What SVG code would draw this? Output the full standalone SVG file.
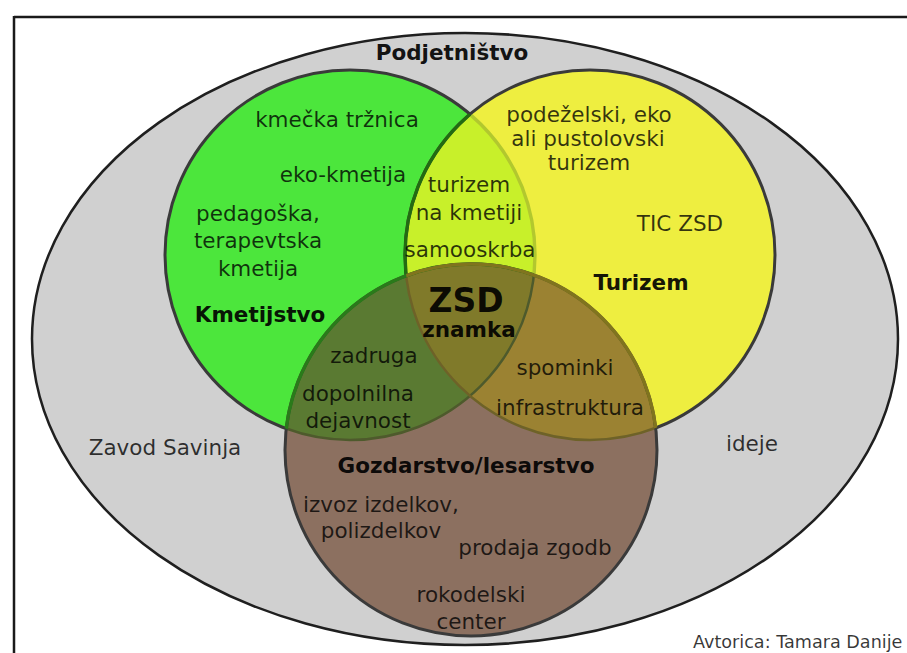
<svg xmlns="http://www.w3.org/2000/svg" width="907" height="653" viewBox="0 0 907 653">
<style>
text{font-family:"DejaVu Sans","Verdana",sans-serif;font-size:21.5px;text-anchor:middle;fill:#000;fill-opacity:0.78}
text.b{font-weight:bold;fill-opacity:0.92}
.edge{fill:none;stroke:#3a3a3a;stroke-width:3}
</style>
<defs>
<circle id="G" cx="350" cy="255" r="185"/>
<circle id="Y" cx="590" cy="255" r="185"/>
<circle id="B" cx="471" cy="450" r="186"/>
<clipPath id="cG"><use href="#G"/></clipPath>
<clipPath id="cY"><use href="#Y"/></clipPath>
<clipPath id="cB"><use href="#B"/></clipPath>
</defs>
<rect width="907" height="653" fill="#fff"/>
<g id="frame" fill="none" stroke="#1a1a1a" stroke-width="2.5">
<line x1="14" y1="17" x2="907" y2="17"/>
<line x1="14" y1="16" x2="14" y2="653"/>
</g>
<g id="podjetnistvo">
<ellipse cx="465" cy="339" rx="433" ry="306" fill="#d0d0d0" stroke="#1f1f1f" stroke-width="2.5"/>
</g>
<g id="regions">
<use href="#G" fill="#4ce63c"/>
<use href="#G" class="edge"/>
<use href="#Y" fill="#eeee40"/>
<use href="#Y" fill="#c8f02a" clip-path="url(#cG)"/>
<use href="#G" fill="none" stroke="#b2c82e" stroke-width="3.4" clip-path="url(#cY)"/>
<use href="#Y" class="edge"/>
<use href="#Y" fill="none" stroke="#236b12" stroke-width="3.4" clip-path="url(#cG)"/>
<use href="#B" fill="#8c7060"/>
<use href="#G" fill="#5a7a32" clip-path="url(#cB)"/>
<use href="#Y" fill="#9b8232" clip-path="url(#cB)"/>
<g clip-path="url(#cB)"><use href="#Y" fill="#807a2a" clip-path="url(#cG)"/></g>
<use href="#G" fill="none" stroke="#4e5a2c" stroke-width="2.5" clip-path="url(#cB)"/>
<use href="#Y" fill="none" stroke="#6e6228" stroke-width="2.5" clip-path="url(#cB)"/>
<use href="#B" class="edge"/>
<use href="#B" fill="none" stroke="#2a7a1a" stroke-width="3.4" clip-path="url(#cG)"/>
<use href="#B" fill="none" stroke="#80741e" stroke-width="3.4" clip-path="url(#cY)"/>
</g>
<g id="labels">
<text class="b" x="452" y="60">Podjetništvo</text>
<text x="337" y="127">kmečka tržnica</text>
<text x="343" y="182">eko-kmetija</text>
<text x="258" y="221">pedagoška,</text>
<text x="258" y="248">terapevtska</text>
<text x="258" y="276">kmetija</text>
<text class="b" x="260" y="322">Kmetijstvo</text>
<text x="469" y="192">turizem</text>
<text x="469" y="220">na kmetiji</text>
<text x="470" y="257">samooskrba</text>
<text x="589" y="122">podeželski, eko</text>
<text x="588" y="146">ali pustolovski</text>
<text x="589" y="170">turizem</text>
<text x="680" y="231">TIC ZSD</text>
<text class="b" x="641" y="290">Turizem</text>
<text class="b" x="466" y="312" style="font-size:33px">ZSD</text>
<text class="b" x="469" y="337">znamka</text>
<text x="374" y="363">zadruga</text>
<text x="358" y="401">dopolnilna</text>
<text x="358" y="428">dejavnost</text>
<text x="565" y="375">spominki</text>
<text x="570" y="415">infrastruktura</text>
<text x="165" y="455">Zavod Savinja</text>
<text x="752" y="451">ideje</text>
<text class="b" x="466" y="473">Gozdarstvo/lesarstvo</text>
<text x="381" y="512">izvoz izdelkov,</text>
<text x="381" y="538">polizdelkov</text>
<text x="535" y="555">prodaja zgodb</text>
<text x="471" y="602">rokodelski</text>
<text x="471" y="629">center</text>
<text x="693" y="648" style="font-size:17.6px;text-anchor:start">Avtorica: Tamara Danije</text>
</g>
</svg>
